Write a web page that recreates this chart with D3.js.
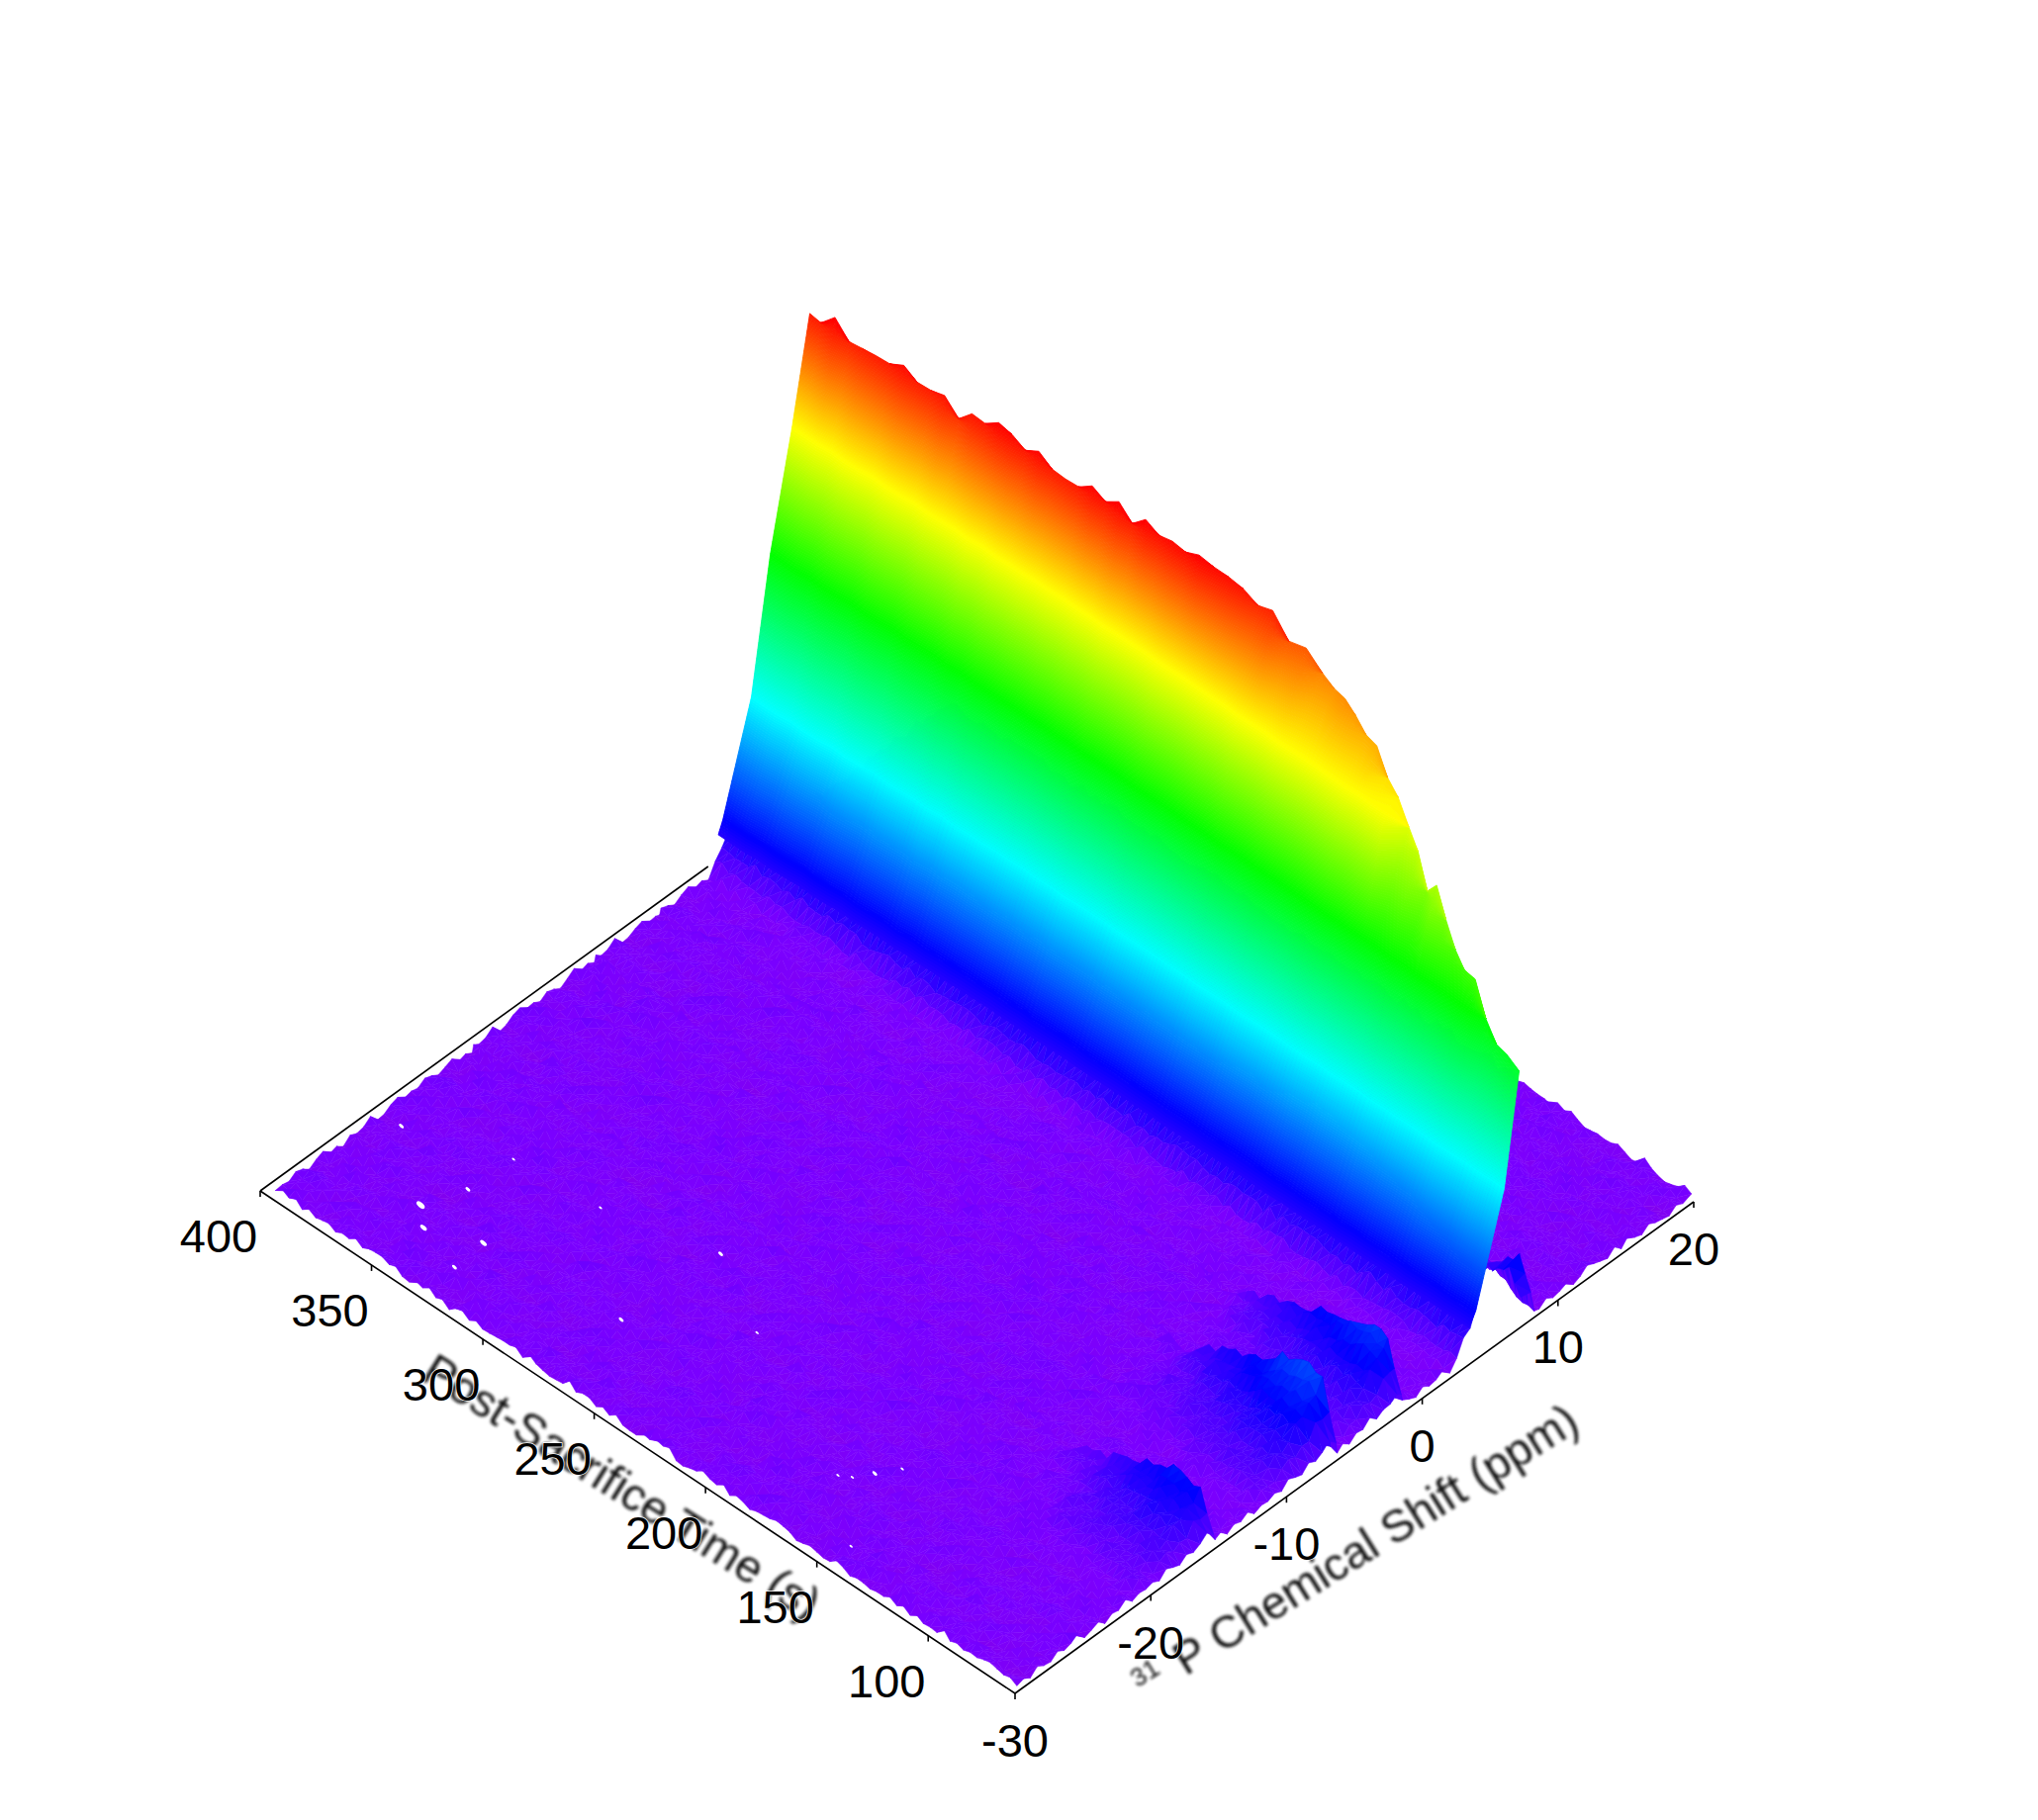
<!DOCTYPE html>
<html>
<head>
<meta charset="utf-8">
<script src="https://cdn.jsdelivr.net/npm/d3@7"></script>
<style>
  body { margin: 0; background: #fff; }
  text { font-family: "Liberation Sans", Arial, sans-serif; }
</style>
</head>
<body>
<svg id="chart" width="2060" height="1840"></svg>
<script>
// tick labels
const timeTicks = [100, 150, 200, 250, 300, 350, 400]
const ppmTicks = [-30, -20, -10, 0, 10, 20]

// spectra, one row per acquisition time (s)
const timeRows = [62,68,74,80,86,92,98,104,110,116,122,128,134,140,146,152,158,164,170,176,182,188,194,200,206,212,218,224,230,236,242,248,254,260,266,272,278,284,290,296,302,308,314,320,326,332,338,344,350,356,362,368,374,380,386,392,397]

// ppm of the ridge top in each row
const crestPpm = [7.3,7.45,7.6,7.8,8,8.2,8.5,8.8,9.1,9.4,9.7,10,10.2,10.4,10.6,10.8,11,11.2,11.4,11.5,11.3,11,10.8,10.7,10.6,10.5,10.4,
  10.3,10.3,10.3,10.3,10.3,10.3,10.3,10.3,10.3,10.3,10.3,10.3,10.3,10.3,10.3,10.3,10.3,10.3,10.3,
  10.25,10.25,10.2,10.2,10.15,10.15,10.1,10.1,10.05,10,10]

// intensity of the ridge top in each row
const crestHeight = [257,262,263,278,307,305,314,332,355,337,365,378,397,406,427,427,436,442,441,447,465,466,490,487,496,500,502,
  506,500,502,499,506,493,506,497,504,494,493,494,503,495,502,505,495,496,482,
  497,493,493,501,494,493,492,490,506,492,494]

// small sideways wander of the low-ppm flank per row
const riseShift = [0,.02,-.02,.03,0,-.03,.02,.03,0,.02,-.02,.03,.02,0,.03,-.02,0,.02,.03,0,-.02,.02,0,-.03,.02,0,.02,
  .03,0,-.02,.03,.02,0,-.05,0,-.03,0,-.05,-.05,-.1,-.1,-.15,-.1,-.2,-.15,-.2,
  -.25,-.2,-.3,-.35,-.3,-.4,-.45,-.4,-.5,-.5,-.5]

// flank of the peak: ppm at which each intensity is reached
const risePpm = [2.4, 4.1, 6.2, 7.6, 9.2]
const riseLevel = [4, 46, 149, 280, 392]

// low shoulders at the start of the run, each cut off at a wall in ppm
const wallPpm = [-15.2, -6.2, -1.4]
const wallReach = [6, 6, 4.4]
const wallHeight = [
  [10,44,42,46,36,38,26,24,12,10,3,0],
  [14,66,70,64,60,48,44,34,32,20,17,7,3,0],
  [14,60,64,56,54,44,43,34,32,22,19,9,4,0]
]
// shoulder on the high-ppm foot of the ridge
const footHeight = [20,42,30,18,8,0]

// baseline noise, intensity
const ripple = [
  [5,8,3,11,6,2,9,4,7,13,3,6,10,2,8,5,12,4,7],
  [9,2,7,4,12,6,3,10,5,1,8,11,4,7,2,14,6,3,9],
  [3,12,6,8,2,10,5,7,15,4,9,2,6,12,8,3,5,10,1],
  [7,4,10,1,9,5,13,2,6,8,3,12,7,4,10,6,9,2,11],
  [11,6,2,14,4,8,1,9,3,11,6,5,9,1,7,12,3,8,5],
  [2,9,5,7,11,3,7,12,8,5,2,10,3,13,5,2,9,6,4],
  [8,3,13,4,6,9,5,2,10,7,12,4,8,6,11,4,7,1,10],
  [4,10,7,2,8,12,3,6,1,9,5,7,14,2,3,9,12,5,6],
  [6,1,9,11,5,3,10,8,4,13,7,2,5,10,6,8,2,11,3],
  [12,7,4,6,15,2,6,11,5,3,10,8,1,7,12,4,6,9,2],
  [3,5,11,2,7,9,4,1,13,6,4,12,9,3,5,10,8,2,7],
  [9,13,6,8,3,5,12,7,2,10,8,3,6,11,2,7,4,13,5],
  [5,2,8,10,1,11,6,9,4,5,12,7,2,8,14,3,10,6,8]
]
// slower patches on the baseline
const floorPatch = [
  [0,2,1,2,1,0,2,1,1],
  [1,0,2,1,0,2,1,2,0],
  [2,1,1,0,2,1,0,2,1],
  [1,2,0,1,2,1,1,0,2],
  [2,0,1,2,0,1,2,1,1],
  [0,1,2,1,1,2,0,1,2],
  [2,1,0,1,2,0,1,2,0]
]

// floor columns below the peak, with a tight pair at each wall
const ppmCols = [-29.7,-29.2,-28.7,-28.2,-27.7,-27.2,-26.7,-26.2,-25.7,-25.2,-24.7,-24.2,-23.7,-23.2,-22.7,-22.2,-21.7,-21.2,-20.7,-20.2,-19.7,-19.2,-18.7,-18.2,-17.7,-17.2,-16.7,-16.2,-15.7,-15.2,-15.1,-14.7,-14.2,-13.7,-13.2,-12.7,-12.2,-11.7,-11.2,-10.7,-10.2,-9.7,-9.2,-8.7,-8.2,-7.7,-7.2,-6.7,-6.2,-6.1,-5.7,-5.2,-4.7,-4.2,-3.7,-3.2,-2.7,-2.2,-1.7,-1.4,-1.3,-.8,-.3,.2,.7,1.2,1.7,2.2,2.7,3.2,3.7,4]
// fractions of the way from the ridge top to 20 ppm
const rightCols = [0,.06,.08,.11,.15,.19,.23,.27,.31,.35,.39,.43,.47,.51,.55,.59,.63,.67,.71,.75,.79,.83,.87,.91,.95,1]

// white pinholes in the surface: ppm, time, size
const holePpm = [-25.4,-22.9,-25.2,-27.5,-21.9,-19.7,-19.2,-17.4,-24.4,-20.3,-25,-22.4,-28.3,-23.6,-24.6,-26.5]
const holeTime = [356,350,329,328,386,349,313,270,272,236,171,158,145,163,167,348]
const holeSize = [5,3,4,3,3,2,2,3,3,2,2,2,2,3,2,4]

// height colour ramp
const colorLevel = [0,6,14,46,149,280,392,505]
const colorRamp = ['#8200ee','#7a00ff','#6000ff','#0000ff','#00ffff','#00ff00','#ffff00','#ff0000']

const svg = d3.select('#chart')

// oblique projection, one scale per screen direction
const ppmX = d3.scaleLinear().domain([-30, 20]).range([0, 686])
const ppmY = d3.scaleLinear().domain([-30, 20]).range([0, -497])
const timeX = d3.scaleLinear().domain([61, 400]).range([0, -763])
const timeY = d3.scaleLinear().domain([61, 400]).range([0, -508])
const heightY = d3.scaleLinear().domain([0, 505]).range([0, -505])
const color = d3.scaleLinear().domain(colorLevel).range(colorRamp).clamp(true)

const originX = 1026, originY = 1712
const px = (ppm, t) => originX + ppmX(ppm) + timeX(t)
const py = (ppm, t, z) => originY + ppmY(ppm) + timeY(t) + heightY(z || 0)

// per-row lookups for the finer floor mesh
const crestAt = d3.scaleLinear().domain(timeRows).range(crestPpm)
const wallAt = wallHeight.map(h => d3.scaleLinear().domain(timeRows.slice(0, h.length)).range(h).clamp(true))
const footAt = d3.scaleLinear().domain(timeRows.slice(0, footHeight.length)).range(footHeight).clamp(true)
const wallRamp = wallPpm.map((w, k) => d3.scaleLinear()
  .domain([w - wallReach[k], w - wallReach[k] * 0.4, w, w + 0.1]).range([0, .45, 1, 0]).clamp(true))
const foot = d3.scaleLinear().domain(risePpm).range(riseLevel).clamp(true)

const floorRows = d3.range(62, 398, 3)
const floorNoise = (r, c) => ripple[r % 13][(c + r * 7) % 19] * 0.8 + floorPatch[Math.floor(r / 4) % 7][Math.floor(c / 5) % 9] - 1

const leftVerts = floorRows.map((t, r) => ppmCols.map((p, c) => {
  let z = floorNoise(r, c) + foot(p) - 4
  wallPpm.forEach((w, k) => { z += wallAt[k](t) * wallRamp[k](p) })
  return { x: px(p, t), y: py(p, t, z), z }
}))

const rightVerts = floorRows.map((t, r) => rightCols.map((v, c) => {
  const top = crestAt(t) + 0.1
  const p = top + v * (20 - top)
  const z = floorNoise(r + 5, c) + (c < 2 ? footAt(t) : 0)
  return { x: px(p, t), y: py(p, t, z), z }
}))

// painter's order: far rows first, high ppm first
function meshCells(verts) {
  const cells = []
  for (let r = verts.length - 1; r > 0; r--) {
    const far = verts[r], near = verts[r - 1]
    for (let j = far.length - 2; j >= 0; j--) {
      cells.push([far[j + 1], far[j], near[j + 1]])
      cells.push([far[j], near[j], near[j + 1]])
    }
  }
  return cells
}

// the flank of each row as a scale from intensity to ppm
const flanks = timeRows.map((t, r) => {
  const top = crestPpm[r], topZ = crestHeight[r]
  const dom = [], ran = []
  risePpm.forEach((p, i) => {
    const pp = i == 0 ? p : p + riseShift[r]
    if (pp < top - 0.05 && riseLevel[i] < topZ - 1) { dom.push(pp); ran.push(riseLevel[i]) }
  })
  dom.push(top); ran.push(topZ)
  return d3.scaleLinear().domain(ran).range(dom)
})

// peak surface drawn as thin height bands, colour depends only on height
const bandStep = 2
const bandLevels = d3.range(34, 508, bandStep)
const bandPoint = (r, z) => {
  const zz = Math.min(z, crestHeight[r])
  const p = flanks[r](zz)
  return [px(p, timeRows[r]), py(p, timeRows[r], zz)]
}
const bandPath = d3.line()
const bands = []
bandLevels.forEach(z => {
  // a band only spans the rows whose ridge reaches it, plus one row each side
  let r = 0
  while (r < timeRows.length) {
    if (crestHeight[r] <= z) { r++; continue }
    let end = r
    while (end + 1 < timeRows.length && crestHeight[end + 1] > z) end++
    const ids = d3.range(Math.max(0, r - 1), Math.min(timeRows.length, end + 2))
    const hi = ids.map(i => bandPoint(i, z + bandStep))
    const lo = ids.map(i => bandPoint(i, z)).reverse()
    bands.push({ z, d: bandPath(hi.concat(lo)) + 'Z' })
    r = end + 1
  }
})

function drawMesh(cells) {
  const tri = d3.line().x(d => d.x).y(d => d.y)
  svg.append('g').selectAll('path')
    .data(cells)
    .join('path')
    .attr('d', d => tri(d) + 'Z')
    .attr('fill', d => color(d3.mean(d, v => v.z)))
    .attr('stroke', d => color(d3.mean(d, v => v.z)))
    .attr('stroke-width', 0.5)
}

// back axis runs under the surface and disappears behind the peak
svg.append('line')
  .attr('stroke', '#000').attr('stroke-width', 1.6)
  .attr('x1', px(-30, 400)).attr('y1', py(-30, 400))
  .attr('x2', px(3, 400)).attr('y2', py(3, 400))

drawMesh(meshCells(rightVerts))
drawMesh(meshCells(leftVerts))

svg.append('g').selectAll('path')
  .data(bands)
  .join('path')
  .attr('d', d => d.d)
  .attr('fill', d => color(d.z + bandStep / 2))
  .attr('stroke', d => color(d.z + bandStep / 2))
  .attr('stroke-width', 0.9)
  .attr('stroke-linejoin', 'bevel')

svg.append('g').selectAll('ellipse')
  .data(holePpm)
  .join('ellipse')
  .attr('cx', (d, i) => px(d, holeTime[i]))
  .attr('cy', (d, i) => py(d, holeTime[i], 6))
  .attr('rx', (d, i) => holeSize[i]).attr('ry', (d, i) => holeSize[i] / 2)
  .attr('fill', '#fff')
  .attr('transform', (d, i) => `rotate(40 ${px(d, holeTime[i])} ${py(d, holeTime[i], 6)})`)

// front axes
const axes = svg.append('g').attr('stroke', '#000').attr('stroke-width', 1.6).attr('fill', 'none')
axes.append('line')
  .attr('x1', px(-30, 400)).attr('y1', py(-30, 400))
  .attr('x2', px(-30, 61)).attr('y2', py(-30, 61))
axes.append('line')
  .attr('x1', px(-30, 61)).attr('y1', py(-30, 61))
  .attr('x2', px(20, 61)).attr('y2', py(20, 61))
axes.selectAll('.tt').data(timeTicks).join('line').attr('class', 'tt')
  .attr('x1', d => px(-30, d)).attr('y1', d => py(-30, d))
  .attr('x2', d => px(-30, d)).attr('y2', d => py(-30, d) + 6)
axes.selectAll('.tp').data(ppmTicks).join('line').attr('class', 'tp')
  .attr('x1', d => px(d, 61)).attr('y1', d => py(d, 61))
  .attr('x2', d => px(d, 61)).attr('y2', d => py(d, 61) + 6)

// axis titles, soft like the original
const defs = svg.append('defs')
defs.append('filter').attr('id', 'soft').append('feGaussianBlur').attr('stdDeviation', 1.4)

svg.append('text')
  .attr('transform', 'translate(424,1394) rotate(32)')
  .attr('filter', 'url(#soft)')
  .attr('font-size', 46).attr('fill', '#111')
  .text('Post-Sacrifice Time (s)')

const ppmTitle = svg.append('text')
  .attr('transform', 'translate(1158,1720) rotate(-32)')
  .attr('filter', 'url(#soft)')
  .attr('font-size', 46).attr('fill', '#111')
ppmTitle.append('tspan').attr('font-size', 26).attr('dy', -16).text('31')
ppmTitle.append('tspan').attr('dy', 16).attr('dx', 6).text(' P Chemical Shift (ppm)')

const labels = svg.append('g')
  .attr('font-size', 47).attr('fill', '#000').attr('text-anchor', 'middle')
  .attr('stroke', '#fff').attr('stroke-width', 1.4).attr('paint-order', 'stroke')
labels.selectAll('.lt').data(timeTicks).join('text').attr('class', 'lt')
  .attr('x', d => px(-30, d) - 42).attr('y', d => py(-30, d) + 62)
  .text(d => d)
labels.selectAll('.lp').data(ppmTicks).join('text').attr('class', 'lp')
  .attr('x', d => px(d, 61)).attr('y', d => py(d, 61) + 64)
  .text(d => d)
</script>
</body>
</html>
